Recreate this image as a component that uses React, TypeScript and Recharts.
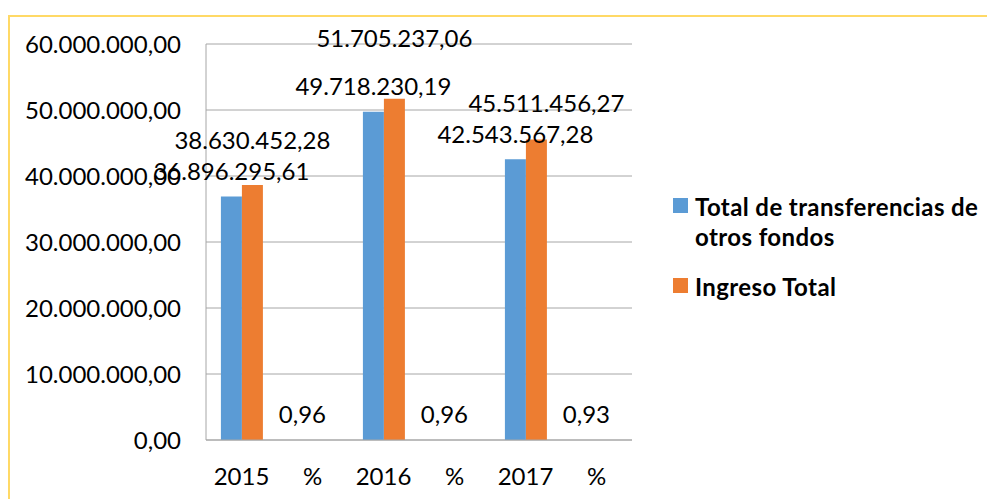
import { BarChart, Bar, XAxis, YAxis, CartesianGrid, LabelList } from 'recharts'

const categories = ['2015', '%', '2016', '%', '2017', '%']
const transferencias = [36896295.61, 0.96, 49718230.19, 0.96, 42543567.28, 0.93]
const ingresoTotal: (number | null)[] = [38630452.28, null, 51705237.06, null, 45511456.27, null]
const yTicks = [0, 10000000, 20000000, 30000000, 40000000, 50000000, 60000000]

const BLUE = '#5B9BD5'
const ORANGE = '#ED7D31'
const FONT = 'Lato, "Open Sans", sans-serif'

// the orange labels were dragged around in the original, so they sit higher
// (indexed by category)
const BLUE_LIFT = 25
const ORANGE_LIFT = [44, 0, 60, 0, 36, 0]
const ORANGE_SHIFT = [0, 0, 0, 0, 10, 0]

const data = categories.map((name, i) => ({
    name,
    transfer: transferencias[i],
    ingreso: ingresoTotal[i],
}))

// 36896295.61 -> "36.896.295,61"
const fmt = (v: number) => {
    const [int, dec] = v.toFixed(2).split('.')
    return int.replace(/\B(?=(\d{3})+(?!\d))/g, '.') + ',' + dec
}

// recharts skips the null bars when numbering labels, so find the category by value
const makeLabel = (values: (number | null)[], lift: number[] | number, shift: number[] | number) => (props: any) => {
    const { x, y, width, value } = props
    if (value === null || value === undefined) return null
    const i = values.indexOf(Number(value))
    const dy = typeof lift === 'number' ? lift : lift[i] ?? 0
    const dx = typeof shift === 'number' ? shift : shift[i] ?? 0
    return (
        <text
            x={Number(x) + Number(width) / 2 + dx}
            y={Number(y) - dy}
            dy="0.35em"
            textAnchor="middle"
            fill="#000"
            fontSize={24}
            fontFamily={FONT}
        >
            {fmt(Number(value))}
        </text>
    )
}

const blueLabel = makeLabel(transferencias, BLUE_LIFT, 0)
const orangeLabel = makeLabel(ingresoTotal, ORANGE_LIFT, ORANGE_SHIFT)

const legendItems = [
    { label: 'Total de transferencias de otros fondos', color: BLUE },
    { label: 'Ingreso Total', color: ORANGE },
]

const LegendBox = () => (
    <div
        style={{
            position: 'absolute',
            left: 665,
            top: 184,
            fontFamily: FONT,
            fontWeight: 700,
            fontSize: 24,
            letterSpacing: 0.4,
            lineHeight: '30px',
            color: '#000',
        }}
    >
        {legendItems.map(it => (
            <div key={it.label} style={{ display: 'flex', alignItems: 'flex-start', marginBottom: 20 }}>
                <span style={{ width: 15, height: 15, background: it.color, marginTop: 6, marginRight: 7, flexShrink: 0 }} />
                <span style={{ width: 295 }}>{it.label}</span>
            </div>
        ))}
    </div>
)

export default function App() {
    return (
        <div style={{ position: 'relative', width: 987, height: 491, overflow: 'hidden', fontFamily: FONT }}>
            <div
                style={{
                    position: 'absolute',
                    left: 0,
                    top: 7,
                    width: 1100,
                    height: 600,
                    border: '2px solid #FFD966',
                    boxSizing: 'border-box',
                }}
            />
            <BarChart
                width={987}
                height={491}
                data={data}
                margin={{ top: 36, right: 363, bottom: 19, left: 0 }}
                barCategoryGap="21%"
                barGap={0}
                style={{ position: 'absolute', left: 0, top: 0 }}
            >
                <CartesianGrid vertical={false} stroke="#A6A6A6" />
                <XAxis
                    dataKey="name"
                    height={40}
                    axisLine={{ stroke: '#A6A6A6' }}
                    tickLine={false}
                    tickSize={0}
                    tickMargin={28}
                    tick={{ fill: '#000', fontSize: 24, fontFamily: FONT }}
                />
                <YAxis
                    width={198}
                    domain={[0, 60000000]}
                    ticks={yTicks}
                    interval={0}
                    tickFormatter={fmt}
                    axisLine={{ stroke: '#A6A6A6' }}
                    tickLine={false}
                    tickSize={0}
                    tickMargin={25}
                    tick={{ fill: '#000', fontSize: 24, fontFamily: FONT }}
                />
                <Bar dataKey="transfer" name="Total de transferencias de otros fondos" fill={BLUE} isAnimationActive={false}>
                    <LabelList dataKey="transfer" content={blueLabel} />
                </Bar>
                <Bar dataKey="ingreso" name="Ingreso Total" fill={ORANGE} isAnimationActive={false}>
                    <LabelList dataKey="ingreso" content={orangeLabel} />
                </Bar>
            </BarChart>
            <LegendBox />
        </div>
    )
}
